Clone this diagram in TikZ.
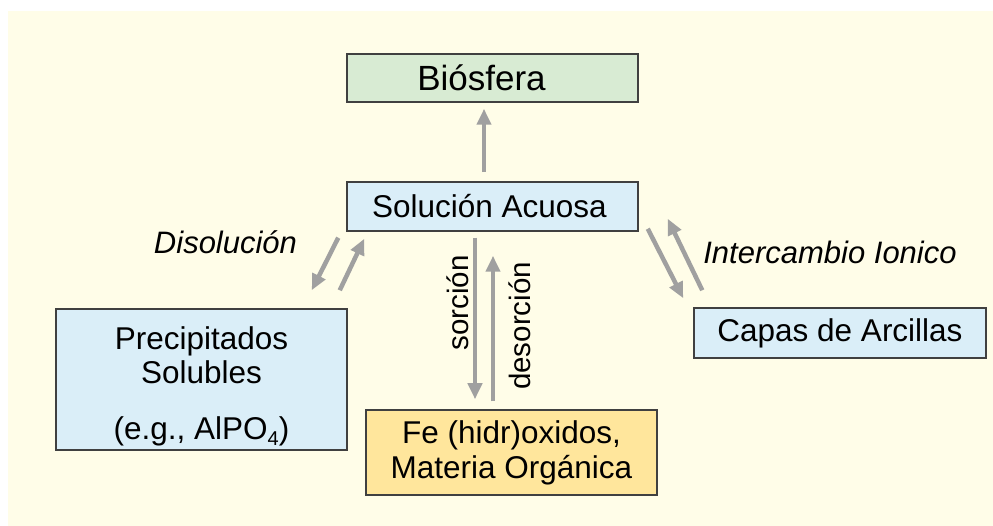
\documentclass[tikz,border=0pt]{standalone}
\usepackage{fontspec}
\setmainfont{Liberation Sans}
\usetikzlibrary{calc,arrows.meta}
\definecolor{cream}{HTML}{FFFDE8}
\definecolor{biofill}{HTML}{D8EBD3}
\definecolor{bluefill}{HTML}{DAEEF8}
\definecolor{fefill}{HTML}{FFE69C}
\definecolor{boxline}{HTML}{404040}
\definecolor{arrowgray}{HTML}{A0A0A0}
\tikzset{
  box/.style={draw=boxline, line width=1.5pt, inner sep=0pt, align=center,
    font=\fontsize{31.5}{34}\selectfont},
  flow/.style={draw=arrowgray, line width=4.5pt, -{Triangle[width=14pt,length=16pt]}},
  lbl/.style={inner sep=0pt, font=\fontsize{31}{34}\selectfont\itshape},
  vlbl/.style={inner sep=0pt, rotate=90, font=\fontsize{29.5}{34}\selectfont},
}
\begin{document}
\begin{tikzpicture}[x=1pt,y=-1pt]
\useasboundingbox (0,0) rectangle (993,526);
\fill[white] (0,0) rectangle (993,526);
\fill[cream] (8,11) rectangle (993,526);

\node[box, fill=biofill, minimum width=291pt, minimum height=48pt,
  font=\fontsize{35}{38}\selectfont] (bio) at (492.5,78) {Biósfera\hspace{22pt}};
\node[box, fill=bluefill, minimum width=291pt, minimum height=49pt] (sol) at (492.5,206.5) {Solución Acuosa\hspace{6pt}};
\node[box, fill=bluefill, minimum width=291pt, minimum height=141pt] (prec) at (201.5,379.5)
  {\rule{0pt}{36pt}Precipitados\\Solubles\\[22pt](e.g., AlPO\raisebox{-6pt}{\fontsize{20}{20}\selectfont 4})};
\node[box, fill=fefill, minimum width=291pt, minimum height=85pt] (fe) at (511.5,452.5)
  {Fe (hidr)oxidos,\\[1pt]Materia Orgánica};
\node[box, fill=bluefill, minimum width=292pt, minimum height=50pt] (capas) at (840,333) {Capas de Arcillas};

\node[lbl] (dis) at (225.5,242) {Disolución};
\node[lbl] (inter) at (830,252) {Intercambio Ionico};
\node[vlbl] (sorc) at (458,303) {sorción};
\node[vlbl] (desorc) at (520,326) {desorción};

\draw[flow] ($(sol.north)+(-8.5,-9)$) -- ($(bio.south)+(-8.5,6)$);
\draw[flow] ($(sol.south)+(-17.5,6)$) -- ($(fe.north)+(-36.5,-10)$);
\draw[flow] ($(fe.north)+(-18.5,-8)$) -- ($(sol.south)+(0.5,24)$);
\draw[flow] ($(sol.south west)+(-8,6)$) -- ($(prec.north east)+(-36,-18)$);
\draw[flow] ($(prec.north east)+(-8,-18)$) -- ($(sol.south west)+(18,7)$);
\draw[flow] ($(sol.south east)+(9,-3)$) -- ($(capas.north west)+(-10,-9)$);
\draw[flow] ($(capas.north west)+(9,-17)$) -- ($(sol.south east)+(29,-13)$);
\end{tikzpicture}
\end{document}
